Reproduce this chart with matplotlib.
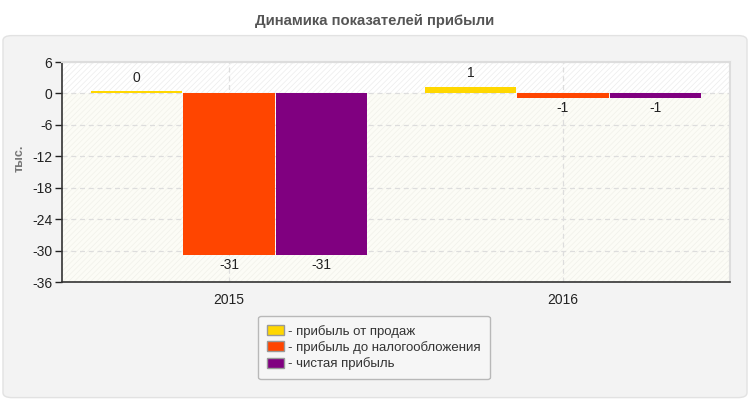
import numpy as np
import matplotlib.pyplot as plt
from matplotlib.patches import FancyBboxPatch, Rectangle

# Data (thousands)
years = ['2015', '2016']
series_names = ['прибыль от продаж', 'прибыль до налогообложения', 'чистая прибыль']
sales_profit = [0.4, 1.3]
pretax_profit = [-30.9, -0.8]
net_profit = [-30.9, -0.8]
colors = ['#ffd700', '#ff4500', '#800080']

plt.rcParams['font.family'] = ['Liberation Sans', 'DejaVu Sans']
plt.rcParams['hatch.linewidth'] = 0.5

fig = plt.figure(figsize=(7.5, 4), dpi=100)
fig.patch.set_facecolor('white')

# Grey rounded panel behind the chart
panel = FancyBboxPatch((0.004, 0.006), 0.992, 0.905, boxstyle='round,pad=0,rounding_size=0.012',
                       transform=fig.transFigure, facecolor='#f3f3f3', edgecolor='#e2e2e2',
                       linewidth=1, zorder=-10)
fig.add_artist(panel)

fig.text(0.5, 0.948, 'Динамика показателей прибыли', ha='center', va='center',
         fontsize=10.7, fontweight='bold', color='#555555')

ax = fig.add_axes([0.0827, 0.295, 0.8906, 0.55])
ax.set_zorder(1)
ax.set_facecolor('white')
ax.set_xlim(-0.5, 1.5)
ax.set_ylim(-36, 6)

# Hatched background, slightly tinted below zero
ax.add_patch(Rectangle((0, 0), 1, 1, transform=ax.transAxes, facecolor='white',
                       edgecolor='#ececec', hatch='//////', linewidth=0, zorder=0))
ax.axhspan(-36, 0, facecolor='#fcfcf6', edgecolor='#f1f1ea', hatch='//////', linewidth=0, zorder=0.1)

x = np.arange(len(years))
w = 0.276
all_series = [sales_profit, pretax_profit, net_profit]
for i, (vals, name, c) in enumerate(zip(all_series, series_names, colors)):
    pos = x + (i - 1) * w
    ax.bar(pos, vals, width=w * 0.99, color=c, label=name, zorder=3, linewidth=0)
    for xp, v in zip(pos, vals):
        lbl = str(int(round(v)))
        if v >= 0:
            ax.text(xp, v + 1.2, lbl, ha='center', va='bottom', fontsize=10, color='#222222', zorder=4)
        else:
            ax.text(xp, v - 0.6, lbl, ha='center', va='top', fontsize=10, color='#222222', zorder=4)

ax.set_yticks(np.arange(-36, 7, 6))
ax.set_yticklabels([str(t) for t in range(-36, 7, 6)])
ax.set_xticks(x)
ax.set_xticklabels(years)
ax.tick_params(axis='y', labelsize=10, colors='#222222', length=5, width=1, pad=2)
ax.tick_params(axis='x', labelsize=10, colors='#222222', length=0, pad=8)
ax.grid(True, color='#dddddd', linestyle=(0, (4, 3)), linewidth=0.9, zorder=1)

for s in ['top', 'right']:
    ax.spines[s].set_color('#dddddd')
    ax.spines[s].set_linewidth(1.5)
for s in ['left', 'bottom']:
    ax.spines[s].set_color('#333333')
    ax.spines[s].set_linewidth(1.2)

ax.set_ylabel('тыс.', fontsize=9, fontweight='bold', color='#777777')
ax.yaxis.set_label_coords(-0.054, 0.56)

leg = fig.legend(loc='center', bbox_to_anchor=(0.4987, 0.1313), frameon=True, fontsize=9.5,
                 handlelength=1.3, handleheight=0.8, handletextpad=0.3, labelspacing=0.25,
                 borderpad=0.7, fancybox=True)
leg.set_zorder(2)
leg.get_frame().set_facecolor('#f8f8f8')
leg.get_frame().set_edgecolor('#aaaaaa')
leg.get_frame().set_linewidth(1)
for h in leg.legend_handles:
    h.set_edgecolor('#999999')
    h.set_linewidth(1)
for t, name in zip(leg.get_texts(), series_names):
    t.set_text('- ' + name)
    t.set_color('#333333')

fig.savefig('out.png', dpi=100, facecolor=fig.get_facecolor())
